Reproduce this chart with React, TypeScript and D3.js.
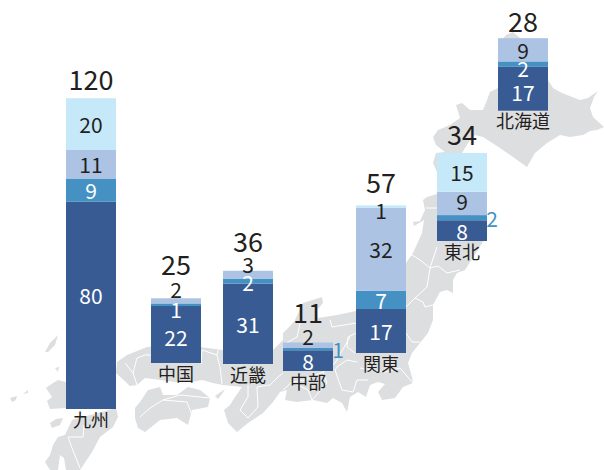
import React from "react";
import * as d3 from "d3";

const regions = ["九州", "中国", "近畿", "中部", "関東", "東北", "北海道"];
const totals = [120, 25, 36, 11, 57, 34, 28];
const seriesKeys = ["a", "b", "c", "d"];
const seriesA = [80, 22, 31, 8, 17, 8, 17];
const seriesB = [9, 1, 2, 1, 7, 2, 2];
const seriesC = [11, 2, 3, 2, 32, 9, 9];
const seriesD = [20, 0, 0, 0, 1, 15, 0];
const seriesColors = ["#395b93", "#4591c4", "#adc3e3", "#c6e9fa"];
const seriesText = ["#ffffff", "#ffffff", "#231f20", "#231f20"];

// layout
const barLeft = [66, 151, 223, 283, 356, 437, 498];
const barBase = [409, 363, 364, 371, 353, 241, 110.7];
const barWidth = 50;
const pxPerUnit = 2.59;
const totalGap = [20, 35, 30, 31, 24, 19, 18];
// vertical nudges of each value label away from its segment centre
const nudgeA = [-10, 2, 0, 0, 0, 0, 3];
const nudgeB = [0, 4, 1, 0, 0, 0, 4];
const nudgeC = [0, -12, -11, -9, 0, -2, 0];
const nudgeD = [0, 0, 0, 0, 3, 0, 0];
// values too thin to hold a label, drawn beside the bar
const besideBar = [false, false, false, true, false, true, false];

// land outlines
const hokkaido = [[498,45],[506,35],[513,32],[520,38],[548,60],[548,80],[553,88],[560,92],[567,95],[580,100],[588,98],[598,91],[594,97],[593,100],[590,108],[593,117],[604,127],[597,130],[590,131],[583,135],[570,137],[560,135],[547,143],[535,153],[527,167],[520,162],[500,148],[483,137],[475,135],[468,143],[462,153],[450,165],[437,172],[433,163],[436,153],[445,152],[436,145],[433,137],[438,130],[450,125],[460,118],[456,105],[462,103],[470,110],[483,110],[487,100],[490,92],[498,88]];
const honshu = [[423,200],[427,197],[437,194],[450,195],[470,210],[487,225],[484,240],[478,250],[470,262],[465,270],[457,273],[453,280],[453,293],[447,290],[440,292],[433,305],[433,320],[428,333],[420,343],[412,353],[408,363],[412,377],[413,383],[403,387],[395,398],[382,400],[378,392],[385,384],[378,382],[370,385],[366,397],[358,392],[350,397],[347,412],[342,403],[333,398],[327,403],[313,400],[297,402],[285,400],[287,390],[280,392],[273,402],[263,413],[248,423],[237,432],[228,423],[224,410],[230,405],[235,397],[242,387],[223,385],[213,383],[202,380],[192,382],[175,382],[160,380],[145,378],[137,385],[130,386],[116,373],[117,362],[127,355],[147,347],[175,345],[200,347],[223,350],[250,345],[273,350],[283,340],[283,333],[293,323],[295,320],[303,303],[322,297],[323,303],[317,310],[318,318],[337,315],[356,311],[385,270],[406,263],[413,253],[422,233],[424,220],[414,226],[413,222],[420,221],[425,210]];
const shikoku = [[135,408],[140,402],[148,390],[160,387],[163,395],[177,395],[188,387],[200,390],[210,398],[208,407],[192,410],[188,425],[177,418],[160,420],[145,432],[138,428],[135,418]];
const awaji = [[215,396],[225,389],[222,394],[218,399]];
const kyushuNorth = [[66,382],[58,380],[50,385],[46,388],[52,397],[47,401],[50,409],[66,408],[116,409],[116,360],[70,370]];
const kyushuSouth = [[72,420],[116,408],[118,417],[113,427],[100,437],[92,452],[80,470],[66,470],[64,458],[60,455],[58,470],[50,470],[45,462],[50,455],[53,445],[58,437],[65,435]];
const amakusa = [[50,423],[56,419],[63,418],[60,425],[52,428]];
const tsushima = [[45,352],[50,343],[58,335],[55,345],[48,352]];
const iki = [[55,368],[59,367],[58,372]];
const goto = [[10,398],[17,396],[16,400],[12,402]];
const gotoNorth = [[23,394],[28,390],[28,393]];
const landShapes = [hokkaido, honshu, shikoku, awaji, kyushuNorth, kyushuSouth, amakusa, tsushima, iki, goto, gotoNorth];

// prefecture borders
const borders = [
  [[426,208],[437,208]],
  [[406,258],[412,255],[420,260],[430,268],[438,266],[447,273],[460,270]],
  [[437,247],[430,268],[427,287],[415,298],[406,307]],
  [[415,298],[423,302],[425,307],[433,305]],
  [[406,333],[412,342],[420,342]],
  [[356,333],[348,337],[347,347],[355,353]],
  [[335,370],[337,367],[347,360],[357,362]],
  [[335,370],[342,390],[353,392],[357,380],[368,380]],
  [[360,368],[385,372],[400,368],[413,383]],
  [[330,320],[332,327],[356,323]],
  [[300,323],[297,337],[283,345]],
  [[350,337],[335,363],[323,372],[327,383],[312,400]],
  [[323,372],[305,380],[292,382],[283,390]],
  [[292,382],[308,390],[312,400]],
  [[248,385],[248,397],[240,410],[248,418],[258,407],[257,387],[270,385],[278,377],[283,373]],
  [[220,343],[217,355],[202,350],[201,364]],
  [[217,355],[220,367],[222,384]],
  [[125,363],[133,373],[137,385]],
  [[133,373],[137,358],[145,355],[151,355]],
  [[140,417],[150,408],[163,400],[180,395]],
  [[163,400],[187,402],[192,415]],
  [[180,395],[210,398]],
  [[68,437],[72,448],[80,468]],
  [[68,437],[83,437],[84,425]],
];

const heightScale = d3.scaleLinear().domain([0, 120]).range([0, pxPerUnit * 120]);
const stackTable = regions.map((name, i) => ({ name, a: seriesA[i], b: seriesB[i], c: seriesC[i], d: seriesD[i] }));
const stacked = d3.stack().keys(seriesKeys)(stackTable as any);
const nudges = [nudgeA, nudgeB, nudgeC, nudgeD];
const linePath = d3.line();
const font = "'Noto Sans CJK JP', 'Noto Sans', sans-serif";

export default function App() {
  return (
    <svg width={604} height={470} viewBox="0 0 604 470" style={{ position: "absolute", left: 0, top: 0, display: "block" }} fontFamily={font}>
      <g>
        {landShapes.map((shape, i) => (
          <path key={i} d={linePath(shape as any) + "Z"} fill="#dddee0" />
        ))}
        {borders.map((line, i) => (
          <path key={i} d={linePath(line as any) as string} fill="none" stroke="#ffffff" strokeWidth={1} />
        ))}
      </g>
      {stacked.map((layer, s) => (
        <g key={s}>
          {layer.map((seg, r) =>
            seg[1] > seg[0] ? (
              <rect
                key={r}
                x={barLeft[r]}
                y={barBase[r] - heightScale(seg[1])}
                width={barWidth}
                height={heightScale(seg[1]) - heightScale(seg[0])}
                fill={seriesColors[s]}
              />
            ) : null
          )}
        </g>
      ))}
      {stacked.map((layer, s) => (
        <g key={s} fontSize={21} textAnchor="middle" dominantBaseline="central">
          {layer.map((seg, r) => {
            if (seg[1] <= seg[0]) return null;
            const y = barBase[r] - heightScale((seg[0] + seg[1]) / 2) + nudges[s][r];
            const side = s === 1 && besideBar[r];
            return (
              <text
                key={r}
                x={side ? barLeft[r] + barWidth + 5 : barLeft[r] + barWidth / 2}
                y={y}
                fill={side ? seriesColors[1] : seriesText[s]}
              >
                {seg[1] - seg[0]}
              </text>
            );
          })}
        </g>
      ))}
      <g fontSize={27} textAnchor="middle" fill="#231f20" dominantBaseline="central">
        {totals.map((t, r) => (
          <text key={r} x={barLeft[r] + barWidth / 2} y={barBase[r] - heightScale(t) - totalGap[r]}>
            {t}
          </text>
        ))}
      </g>
      <g fontSize={18} textAnchor="middle" fill="#231f20" dominantBaseline="central">
        {regions.map((name, r) => (
          <text key={r} x={barLeft[r] + barWidth / 2} y={barBase[r] + 9.5}>
            {name}
          </text>
        ))}
      </g>
    </svg>
  );
}
